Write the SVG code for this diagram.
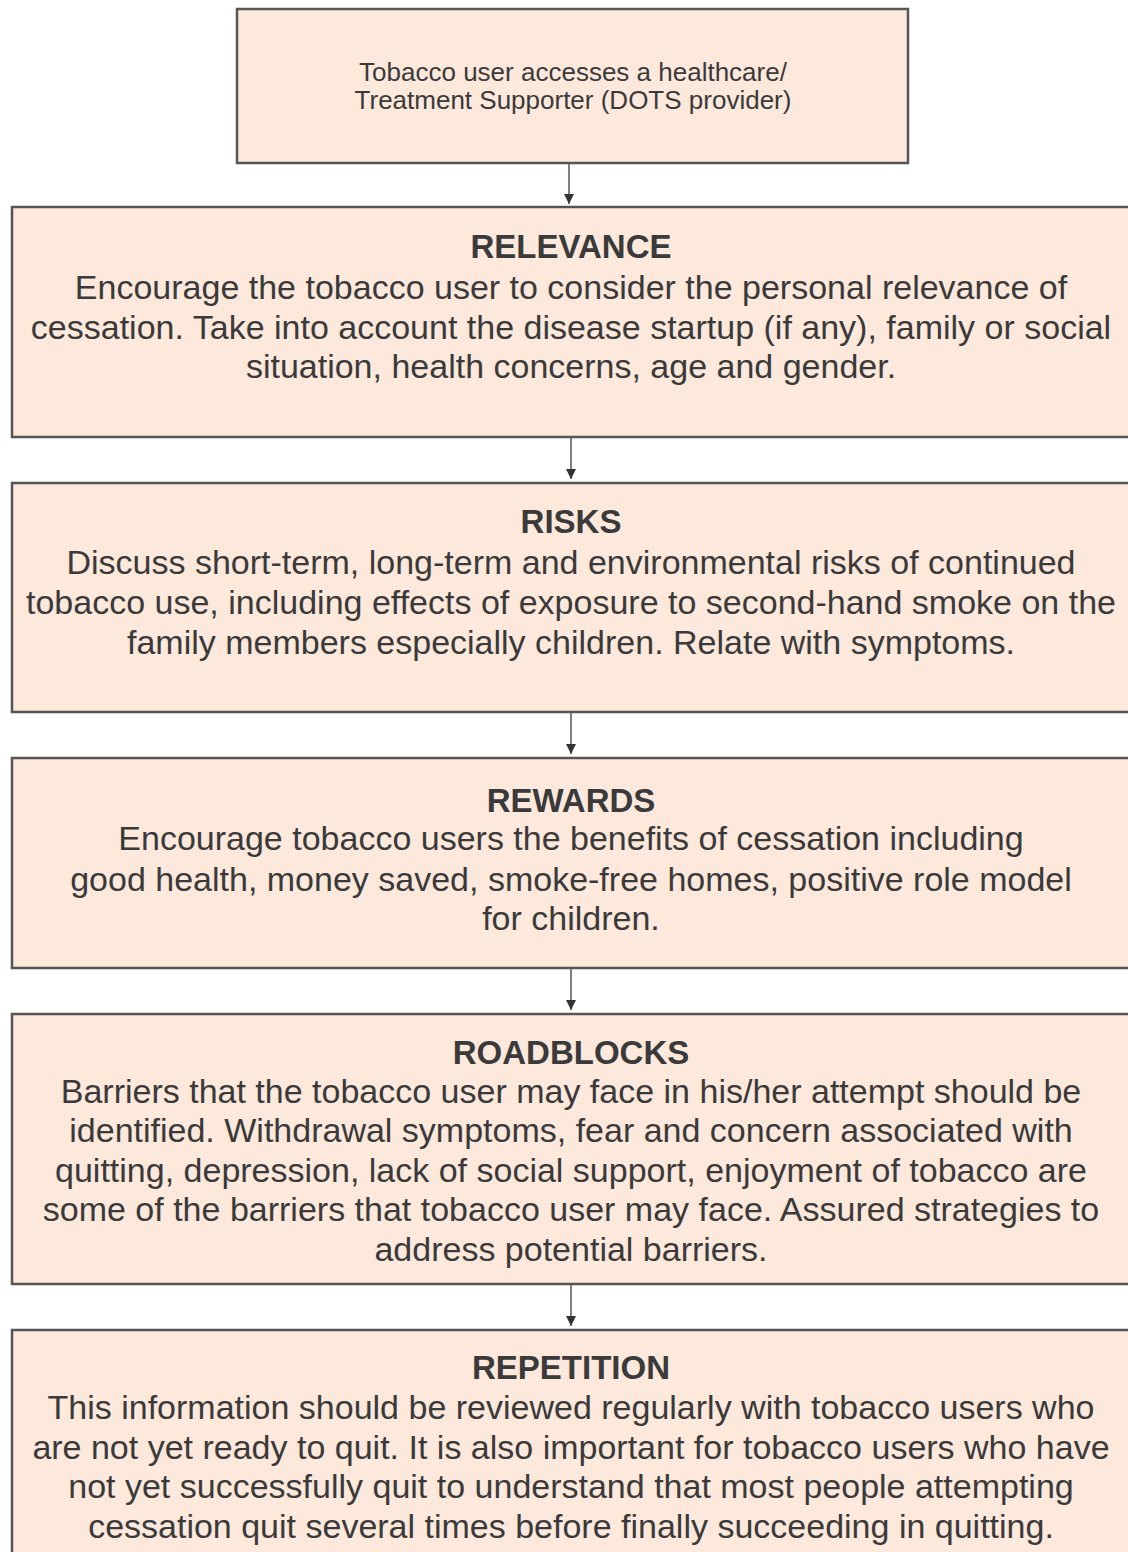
<svg xmlns="http://www.w3.org/2000/svg" width="1128" height="1552" viewBox="0 0 1128 1552">
<style>
.box{fill:#fde8dc;stroke:#555;stroke-width:2.5}
.t{font-family:"Liberation Sans",Arial,sans-serif;fill:#3a3a3a;text-anchor:middle}
.top{font-size:26px}
.h{font-size:33px;font-weight:bold}
.b{font-size:34px}
.c{stroke:#555;stroke-width:1.5;fill:none;marker-end:url(#ah)}
</style>
<defs>
<marker id="ah" viewBox="0 0 10 10" refX="10" refY="5" markerWidth="10" markerHeight="10" markerUnits="userSpaceOnUse" orient="auto">
<path d="M0,0 L10,5 L0,10 z" fill="#333"/>
</marker>
</defs>
<rect width="1128" height="1552" fill="#fff"/>
<g id="connectors">
<line class="c" x1="569" y1="163" x2="569" y2="204"/>
<line class="c" x1="571" y1="437" x2="571" y2="479"/>
<line class="c" x1="571" y1="712" x2="571" y2="754"/>
<line class="c" x1="571" y1="968" x2="571" y2="1010"/>
<line class="c" x1="571" y1="1284" x2="571" y2="1326"/>
</g>
<g id="start">
<rect class="box" x="237" y="9" width="671" height="154"/>
<text class="t top" x="573" y="81">Tobacco user accesses a healthcare/</text>
<text class="t top" x="573" y="109">Treatment Supporter (DOTS provider)</text>
</g>
<g id="relevance">
<rect class="box" x="12" y="207" width="1140" height="230"/>
<text class="t h" x="571" y="258">RELEVANCE</text>
<text class="t b" x="571" y="299">Encourage the tobacco user to consider the personal relevance of</text>
<text class="t b" x="571" y="339">cessation. Take into account the disease startup (if any), family or social</text>
<text class="t b" x="571" y="378">situation, health concerns, age and gender.</text>
</g>
<g id="risks">
<rect class="box" x="12" y="483" width="1140" height="229"/>
<text class="t h" x="571" y="533">RISKS</text>
<text class="t b" x="571" y="574">Discuss short-term, long-term and environmental risks of continued</text>
<text class="t b" x="571" y="614">tobacco use, including effects of exposure to second-hand smoke on the</text>
<text class="t b" x="571" y="654">family members especially children. Relate with symptoms.</text>
</g>
<g id="rewards">
<rect class="box" x="12" y="758" width="1140" height="210"/>
<text class="t h" x="571" y="812">REWARDS</text>
<text class="t b" x="571" y="850">Encourage tobacco users the benefits of cessation including</text>
<text class="t b" x="571" y="891">good health, money saved, smoke-free homes, positive role model</text>
<text class="t b" x="571" y="930">for children.</text>
</g>
<g id="roadblocks">
<rect class="box" x="12" y="1014" width="1140" height="270"/>
<text class="t h" x="571" y="1064">ROADBLOCKS</text>
<text class="t b" x="571" y="1103">Barriers that the tobacco user may face in his/her attempt should be</text>
<text class="t b" x="571" y="1142">identified. Withdrawal symptoms, fear and concern associated with</text>
<text class="t b" x="571" y="1182">quitting, depression, lack of social support, enjoyment of tobacco are</text>
<text class="t b" x="571" y="1221">some of the barriers that tobacco user may face. Assured strategies to</text>
<text class="t b" x="571" y="1261">address potential barriers.</text>
</g>
<g id="repetition">
<rect class="box" x="12" y="1330" width="1140" height="240"/>
<text class="t h" x="571" y="1379">REPETITION</text>
<text class="t b" x="571" y="1419">This information should be reviewed regularly with tobacco users who</text>
<text class="t b" x="571" y="1459">are not yet ready to quit. It is also important for tobacco users who have</text>
<text class="t b" x="571" y="1498">not yet successfully quit to understand that most people attempting</text>
<text class="t b" x="571" y="1538">cessation quit several times before finally succeeding in quitting.</text>
</g>
</svg>
